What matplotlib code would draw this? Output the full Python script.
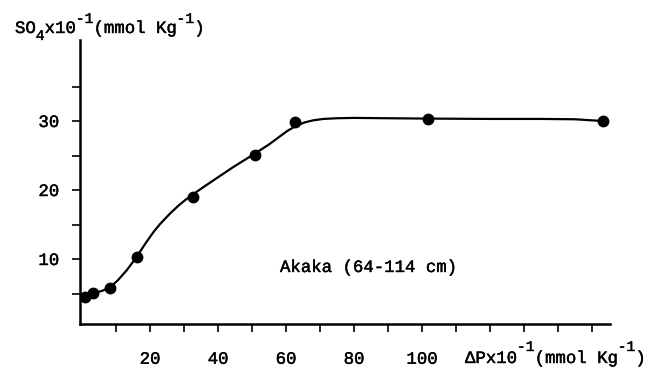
import numpy as np
import matplotlib
matplotlib.use("Agg")
import matplotlib.pyplot as plt
import matplotlib.patheffects as pe
from matplotlib.ticker import FixedLocator

plt.rcParams['font.family'] = ['Liberation Mono', 'DejaVu Sans']

# --- datos medidos ---
dp_x = [0.9, 3.2, 8.2, 16.2, 32.6, 50.9, 62.6, 101.8, 153.2]
so4_y = [4.5, 5.1, 5.8, 10.3, 19.0, 25.1, 29.9, 30.3, 30.0]

# curva a mano
curve_x = [0.9, 3.2, 6.0, 8.2, 10.5, 13.2, 15.0, 17.1, 19.0, 21.0, 23.0, 25.9,
           28.5, 30.5, 32.6, 35.5, 38.5, 44.4, 50.9, 55.0, 58.0, 60.5, 63.0,
           65.5, 68.0, 71.0, 75.0, 80.0, 90.0, 101.8, 120.0, 135.0, 145.0, 153.2]
curve_y = [4.3, 5.0, 5.4, 5.9, 6.9, 8.4, 9.6, 11.1, 12.5, 13.9, 15.1, 16.6,
           17.8, 18.6, 19.35, 20.35, 21.35, 23.3, 25.3, 26.6, 27.7, 28.6, 29.3,
           29.8, 30.1, 30.3, 30.4, 30.45, 30.4, 30.35, 30.3, 30.3, 30.25, 30.0]

x_labels = [20, 40, 60, 80, 100]
y_labels = [10, 20, 30]

# trazo algo mas grueso, como la maquina de escribir
grueso = [pe.withStroke(linewidth=0.3, foreground='black')]

fig = plt.figure(figsize=(6.61, 3.73), dpi=100)
ax = fig.add_axes([80 / 661, 49 / 373, 530 / 661, 284 / 373])

ax.plot(curve_x, curve_y, color='black', lw=1.6, solid_capstyle='round',
        solid_joinstyle='round')
ax.plot(dp_x, so4_y, 'o', color='black', ms=7.5)

ax.set_xlim(-0.6, 155.3)
ax.set_ylim(0.58, 41.74)

ax.spines['top'].set_visible(False)
ax.spines['right'].set_visible(False)
for s in ['left', 'bottom']:
    ax.spines[s].set_linewidth(1.8)

ax.xaxis.set_major_locator(FixedLocator(x_labels))
ax.xaxis.set_minor_locator(FixedLocator([v for v in range(10, 151, 10) if v not in x_labels]))
ax.yaxis.set_major_locator(FixedLocator(y_labels))
ax.yaxis.set_minor_locator(FixedLocator([5, 15, 25, 35]))

ax.tick_params(axis='both', which='both', direction='out', length=6, width=1.2)
ax.tick_params(axis='x', which='major', pad=14, labelsize=12.5)
ax.tick_params(axis='y', which='major', pad=9, labelsize=12.5)
for lbl in ax.get_xticklabels() + ax.get_yticklabels():
    lbl.set_path_effects(grueso)

ax.text(280 / 661, (373 - 272) / 373, 'Akaka (64-114 cm)', transform=fig.transFigure,
        fontsize=12.5, va='baseline', ha='left', path_effects=grueso)

# etiquetas con super/subindices grandes (estilo maquina de escribir)
renderer = fig.canvas.get_renderer()


def label_en_trozos(x0, y0, trozos, size=12.5):
    # dy > 0 sube el trozo (superindice), dy < 0 lo baja (subindice)
    x = x0
    for txt, dy in trozos:
        fs = size if dy == 0 else size * 0.85
        t = fig.text(x / 661, (373 - y0 + dy) / 373, txt, fontsize=fs,
                     va='baseline', ha='left', path_effects=grueso)
        bb = t.get_window_extent(renderer)
        x += bb.width


label_en_trozos(15, 33, [('SO', 0), ('4', -7), ('x10', 0), ('-1', 10),
                         ('(mmol Kg', 0), ('-1', 10), (')', 0)])
label_en_trozos(465, 363, [('\u0394Px10', 0), ('-1', 12),
                           ('(mmol Kg', 0), ('-1', 12), (')', 0)])

plt.savefig('out.png', dpi=100, facecolor='white')
